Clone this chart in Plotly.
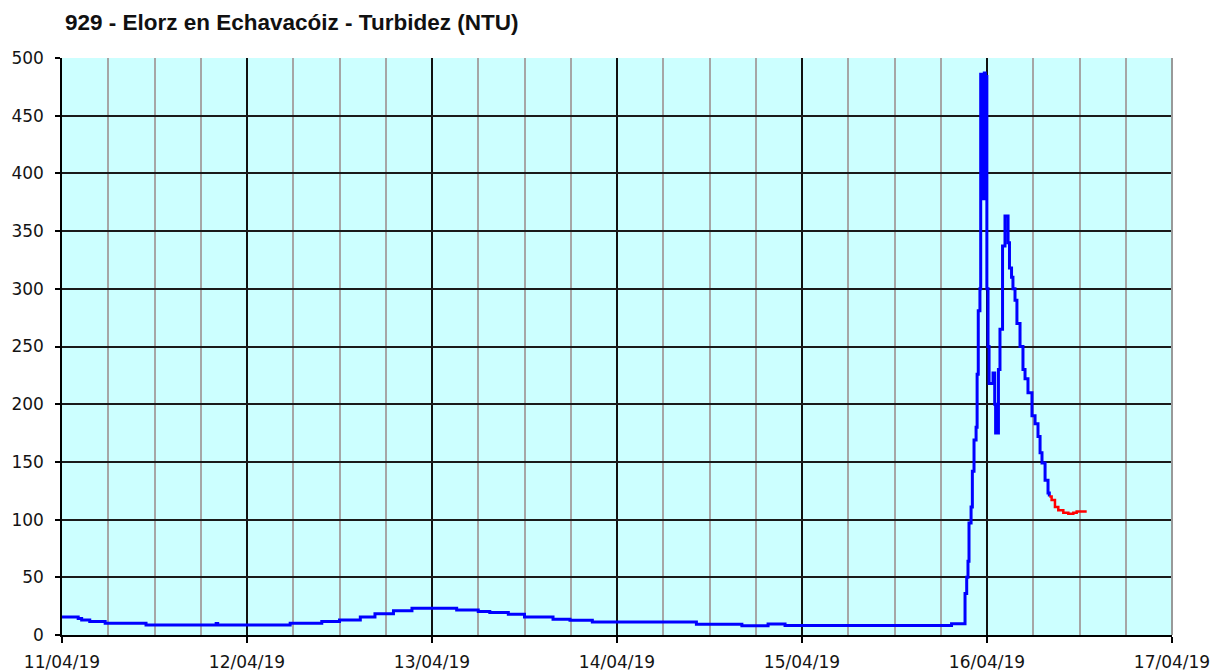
import plotly.graph_objects as go

# ---- data (change points, held until the next one) ----
blue_times = [
    "2019-04-11 00:00", "2019-04-11 02:06", "2019-04-11 02:33", "2019-04-11 03:36",
    "2019-04-11 05:36", "2019-04-11 10:54", "2019-04-11 20:00", "2019-04-11 20:12",
    "2019-04-12 05:36", "2019-04-12 09:42", "2019-04-12 12:00", "2019-04-12 14:42",
    "2019-04-12 16:36", "2019-04-12 19:00", "2019-04-12 21:24", "2019-04-13 03:12",
    "2019-04-13 06:00", "2019-04-13 07:30", "2019-04-13 09:54", "2019-04-13 12:00",
    "2019-04-13 15:42", "2019-04-13 17:54", "2019-04-13 20:48", "2019-04-14 10:18",
    "2019-04-14 16:12", "2019-04-14 19:36", "2019-04-14 21:48", "2019-04-15 19:24",
    "2019-04-15 21:09", "2019-04-15 21:22", "2019-04-15 21:32", "2019-04-15 21:40",
    "2019-04-15 21:56", "2019-04-15 22:06", "2019-04-15 22:19", "2019-04-15 22:35",
    "2019-04-15 22:43", "2019-04-15 22:52", "2019-04-15 23:05", "2019-04-15 23:11",
    "2019-04-15 23:21", "2019-04-15 23:26", "2019-04-15 23:33", "2019-04-15 23:39",
    "2019-04-15 23:47", "2019-04-15 23:52", "2019-04-15 23:59", "2019-04-16 00:08",
    "2019-04-16 00:16", "2019-04-16 00:47", "2019-04-16 01:00", "2019-04-16 01:07",
    "2019-04-16 01:29", "2019-04-16 01:41", "2019-04-16 02:01", "2019-04-16 02:20",
    "2019-04-16 02:44", "2019-04-16 02:55", "2019-04-16 03:11", "2019-04-16 03:22",
    "2019-04-16 03:38", "2019-04-16 03:53", "2019-04-16 04:17", "2019-04-16 04:40",
    "2019-04-16 04:56", "2019-04-16 05:19", "2019-04-16 05:50", "2019-04-16 06:14",
    "2019-04-16 06:37", "2019-04-16 06:53", "2019-04-16 07:08", "2019-04-16 07:32",
    "2019-04-16 07:55", "2019-04-16 08:05",
]
blue_values = [
    15.6, 14.2, 13.0, 11.6,
    10.1, 8.7, 10.0, 8.7,
    10.1, 11.6, 13.0, 15.6,
    18.5, 21.1, 23.1, 21.7,
    20.3, 19.4, 17.9, 15.6,
    13.6, 12.7, 11.3, 9.3,
    8.0, 9.5, 8.3, 9.8,
    36, 50, 64, 97,
    111, 142, 169, 180,
    226, 281, 300, 486,
    380, 485, 378, 487,
    378, 484, 300, 250,
    218, 227, 200, 175,
    230, 265, 337, 363,
    340, 318, 310, 300,
    290, 270, 250, 230,
    222, 210, 190, 183,
    172, 158, 149, 134,
    123, 120,
]

red_times = [
    "2019-04-16 08:05", "2019-04-16 08:23", "2019-04-16 08:49", "2019-04-16 09:15",
    "2019-04-16 09:54", "2019-04-16 10:33", "2019-04-16 11:12", "2019-04-16 11:38",
    "2019-04-16 12:56",
]
red_values = [120, 117, 111, 108, 106, 105, 106, 107, 107]

title_text = "929 - Elorz en Echavacóiz - Turbidez (NTU)"
x_range = ["2019-04-11", "2019-04-17"]
y_range = [0, 500]

fig = go.Figure()
fig.add_trace(go.Scatter(x=blue_times, y=blue_values, mode="lines",
                         line=dict(color="#0000FF", width=3, shape="hv"),
                         showlegend=False, hoverinfo="x+y"))
fig.add_trace(go.Scatter(x=red_times, y=red_values, mode="lines",
                         line=dict(color="#FF0000", width=2.5, shape="hv"),
                         showlegend=False, hoverinfo="x+y"))

tick_font = dict(family="Verdana, DejaVu Sans, sans-serif", size=17, color="#141414")

fig.update_layout(
    width=1217, height=672,
    margin=dict(l=62, r=45, t=58, b=37, autoexpand=False),
    paper_bgcolor="white",
    plot_bgcolor="#CCFFFF",
    title=dict(text=title_text, x=65 / 1217, xref="container", xanchor="left",
               y=1 - 22 / 672, yref="container", yanchor="middle",
               font=dict(family="Liberation Sans, Arial, sans-serif", size=22.5,
                         color="#111111", weight="bold")),
    xaxis=dict(
        type="date", range=x_range, automargin=False,
        dtick=86400000, tick0="2019-04-11", tickformat="%d/%m/%y",
        showgrid=True, gridcolor="#111111", gridwidth=1.5,
        minor=dict(dtick=6 * 3600000, tick0="2019-04-11", showgrid=True,
                   gridcolor="#a6a6a6", gridwidth=2, ticks=""),
        ticks="outside", ticklen=6, tickcolor="black", tickwidth=1.5,
        showline=True, linecolor="black", linewidth=1.5,
        tickfont=tick_font, ticklabelstandoff=5,
        zeroline=False, fixedrange=True,
    ),
    yaxis=dict(
        range=y_range, dtick=50, tick0=0, automargin=False,
        showgrid=True, gridcolor="#1a1a1a", gridwidth=1.5,
        ticks="outside", ticklen=5, tickcolor="black", tickwidth=1.5,
        showline=True, linecolor="black", linewidth=1.5,
        tickfont=tick_font, ticklabelstandoff=8,
        zeroline=False, fixedrange=True,
    ),
    shapes=[dict(type="line", xref="paper", yref="paper", x0=1, x1=1, y0=0, y1=1,
                 line=dict(color="#999999", width=2), layer="above")],
)

fig.write_html(
    "out.html",
    config={"displayModeBar": False},
    post_script="document.body.style.margin='0';document.body.style.overflow='hidden';",
)
